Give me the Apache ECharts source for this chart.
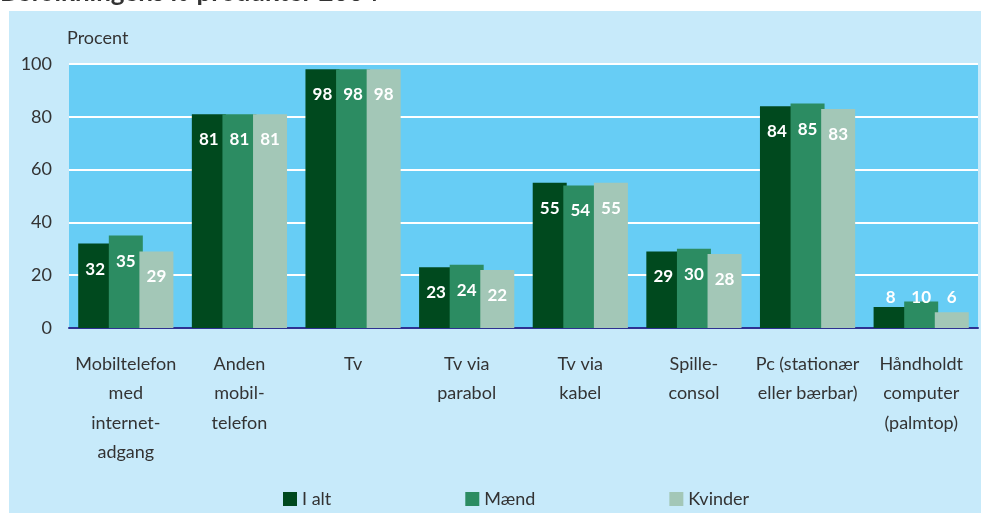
<!DOCTYPE html>
<html>
<head>
<meta charset="utf-8">
<script src="https://cdn.jsdelivr.net/npm/echarts@6/dist/echarts.min.js"></script>
<style>
  html, body { margin: 0; padding: 0; background: #fff; }
  #chart { width: 981px; height: 513px; }
</style>
</head>
<body>
<div id="chart"></div>
<script>
// kategorier og værdier (procent)
const categories = [
  'Mobiltelefon\nmed\ninternet-\nadgang',
  'Anden\nmobil-\ntelefon',
  'Tv',
  'Tv via\nparabol',
  'Tv via\nkabel',
  'Spille-\nconsol',
  'Pc (stationær\neller bærbar)',
  'Håndholdt\ncomputer\n(palmtop)'
];
const iAlt    = [32, 81, 98, 23, 55, 29, 84, 8];
const maend   = [35, 81, 98, 24, 54, 30, 85, 10];
const kvinder = [29, 81, 98, 22, 55, 28, 83, 6];
const yTicks  = [0, 20, 40, 60, 80, 100];

const font = 'Lato, "Open Sans", sans-serif';

// små værdier får etiketten over søjlen
function toData(values) {
  return values.map(function (v) {
    if (v < 15) {
      return { value: v, label: { position: 'insideBottom', distance: 22 } };
    }
    return v;
  });
}

function makeSeries(name, values, color) {
  return {
    name: name,
    type: 'bar',
    data: toData(values),
    barWidth: 34,
    barGap: '-10%',
    itemStyle: { color: color },
    label: {
      show: true,
      position: 'insideTop',
      distance: 17,
      color: '#fff',
      fontFamily: font,
      fontWeight: 'bold',
      fontSize: 17
    }
  };
}

let myChart = echarts.init(document.getElementById('chart'));
let option = {
  animation: false,
  backgroundColor: '#fff',
  textStyle: { fontFamily: font },
  graphic: [
    {
      type: 'rect',
      left: 9, top: 11,
      shape: { width: 972, height: 502 },
      style: { fill: '#C7EAFA' },
      z: -10
    },
    {
      type: 'text',
      left: 0, top: -20,
      style: {
        text: 'Befolkningens it-produkter 2004',
        fontFamily: font,
        fontWeight: 'bold',
        fontSize: 26,
        fill: '#333'
      }
    },
    {
      type: 'text',
      left: 67, top: 29,
      style: { text: 'Procent', fontFamily: font, fontSize: 18, fill: '#333' }
    }
  ],
  legend: {
    left: 278,
    top: 485,
    itemWidth: 14,
    itemHeight: 14,
    itemGap: 134,
    icon: 'rect',
    textStyle: { fontFamily: font, fontSize: 18, color: '#333' },
    data: ['I alt', 'Mænd', 'Kvinder']
  },
  grid: {
    left: 69, right: 3, top: 64, bottom: 185,
    show: true,
    backgroundColor: '#67CDF5',
    borderWidth: 0
  },
  xAxis: {
    type: 'category',
    data: categories,
    axisTick: { show: false },
    axisLine: { lineStyle: { color: '#2E3192', width: 2 } },
    axisLabel: {
      interval: 0,
      margin: 21,
      fontFamily: font,
      fontSize: 18,
      lineHeight: 29.5,
      color: '#333'
    }
  },
  yAxis: {
    type: 'value',
    min: yTicks[0],
    max: yTicks[yTicks.length - 1],
    interval: 20,
    axisLine: { show: false },
    axisTick: { show: false },
    splitLine: { lineStyle: { color: '#fff', width: 2 } },
    axisLabel: { margin: 17, fontFamily: font, fontSize: 18, color: '#333' }
  },
  series: [
    makeSeries('I alt', iAlt, '#00491E'),
    makeSeries('Mænd', maend, '#2C8C62'),
    makeSeries('Kvinder', kvinder, '#A3C7B7')
  ]
};
myChart.setOption(option);
</script>
</body>
</html>
